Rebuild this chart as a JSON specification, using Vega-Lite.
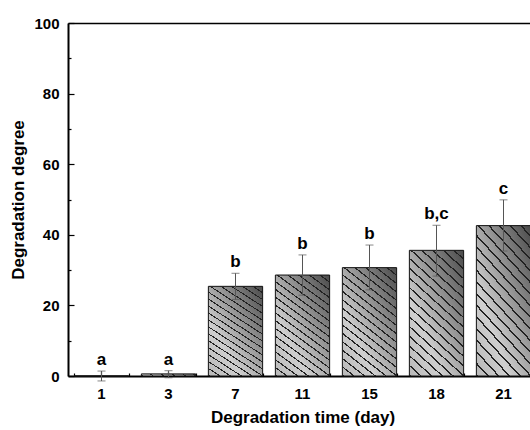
{
  "$schema": "https://vega.github.io/schema/vega-lite/v6.json",
  "width": 462,
  "height": 353,
  "autosize": {"type": "none"},
  "padding": {"left": 68, "top": 23, "right": 0, "bottom": 54},
  "background": "white",
  "config": {
    "view": {"stroke": null},
    "font": "Liberation Sans",
    "axis": {
      "labelFont": "Liberation Sans",
      "labelFontWeight": "bold",
      "labelFontSize": 15,
      "labelColor": "#000",
      "titleFont": "Liberation Sans",
      "titleFontWeight": "bold",
      "titleFontSize": 17,
      "titleColor": "#000",
      "domainColor": "#000",
      "domainWidth": 2,
      "tickColor": "#000",
      "tickWidth": 1.2,
      "grid": false,
      "zindex": 1
    }
  },
  "data": {
    "values": [
      {"day": "1", "mean": 0, "lower": -1.4, "upper": 1.4, "label": "a"},
      {"day": "3", "mean": 0.6, "lower": -0.5, "upper": 1.5, "label": "a"},
      {"day": "7", "mean": 25.4, "lower": 21.7, "upper": 29.1, "label": "b"},
      {"day": "11", "mean": 28.6, "lower": 22.9, "upper": 34.3, "label": "b"},
      {"day": "15", "mean": 30.7, "lower": 24.4, "upper": 37.1, "label": "b"},
      {"day": "18", "mean": 35.6, "lower": 28.3, "upper": 42.7, "label": "b,c"},
      {"day": "21", "mean": 42.6, "lower": 35.4, "upper": 49.9, "label": "c"}
    ]
  },
  "resolve": {"axis": {"x": "independent", "y": "independent"}},
  "layer": [
    {
      "mark": {
        "type": "bar",
        "stroke": "#111",
        "strokeWidth": 1,
        "fill": {
          "gradient": "linear",
          "x1": 0, "y1": 1, "x2": 1, "y2": 0,
          "stops": [
            {"offset": 0, "color": "#b8b8b8"},
            {"offset": 0.3, "color": "#cfcfcf"},
            {"offset": 1, "color": "#4a4a4a"}
          ]
        }
      },
      "encoding": {
        "x": {
          "field": "day", "type": "ordinal", "sort": null,
          "scale": {"range": [0, 469], "paddingInner": 0.19, "paddingOuter": 0.095},
          "axis": {
            "title": "Degradation time (day)",
            "titlePadding": 8,
            "labelAngle": 0,
            "tickSize": -5,
            "labelPadding": 15
          }
        },
        "y": {
          "field": "mean", "type": "quantitative",
          "scale": {"domain": [0, 100]},
          "axis": {
            "title": "Degradation degree",
            "titlePadding": 6,
            "values": [0, 20, 40, 60, 80, 100],
            "tickSize": -6,
            "labelPadding": 15
          }
        }
      }
    },
    {
      "mark": {
        "type": "bar",
        "strokeWidth": 0,
        "fill": {
          "gradient": "linear",
          "x1": 0, "y1": 1, "x2": 0.474, "y2": -0.207,
          "stops": [
            {"offset": 0, "color": "#222"}, {"offset": 0.01, "color": "#222"}, {"offset": 0.01, "color": "rgba(0,0,0,0)"}, {"offset": 0.0556, "color": "rgba(0,0,0,0)"},
            {"offset": 0.0556, "color": "#222"}, {"offset": 0.0656, "color": "#222"}, {"offset": 0.0656, "color": "rgba(0,0,0,0)"}, {"offset": 0.1111, "color": "rgba(0,0,0,0)"},
            {"offset": 0.1111, "color": "#222"}, {"offset": 0.1211, "color": "#222"}, {"offset": 0.1211, "color": "rgba(0,0,0,0)"}, {"offset": 0.1667, "color": "rgba(0,0,0,0)"},
            {"offset": 0.1667, "color": "#222"}, {"offset": 0.1767, "color": "#222"}, {"offset": 0.1767, "color": "rgba(0,0,0,0)"}, {"offset": 0.2222, "color": "rgba(0,0,0,0)"},
            {"offset": 0.2222, "color": "#222"}, {"offset": 0.2322, "color": "#222"}, {"offset": 0.2322, "color": "rgba(0,0,0,0)"}, {"offset": 0.2778, "color": "rgba(0,0,0,0)"},
            {"offset": 0.2778, "color": "#222"}, {"offset": 0.2878, "color": "#222"}, {"offset": 0.2878, "color": "rgba(0,0,0,0)"}, {"offset": 0.3333, "color": "rgba(0,0,0,0)"},
            {"offset": 0.3333, "color": "#222"}, {"offset": 0.3433, "color": "#222"}, {"offset": 0.3433, "color": "rgba(0,0,0,0)"}, {"offset": 0.3889, "color": "rgba(0,0,0,0)"},
            {"offset": 0.3889, "color": "#222"}, {"offset": 0.3989, "color": "#222"}, {"offset": 0.3989, "color": "rgba(0,0,0,0)"}, {"offset": 0.4444, "color": "rgba(0,0,0,0)"},
            {"offset": 0.4444, "color": "#222"}, {"offset": 0.4544, "color": "#222"}, {"offset": 0.4544, "color": "rgba(0,0,0,0)"}, {"offset": 0.5, "color": "rgba(0,0,0,0)"},
            {"offset": 0.5, "color": "#222"}, {"offset": 0.51, "color": "#222"}, {"offset": 0.51, "color": "rgba(0,0,0,0)"}, {"offset": 0.5556, "color": "rgba(0,0,0,0)"},
            {"offset": 0.5556, "color": "#222"}, {"offset": 0.5656, "color": "#222"}, {"offset": 0.5656, "color": "rgba(0,0,0,0)"}, {"offset": 0.6111, "color": "rgba(0,0,0,0)"},
            {"offset": 0.6111, "color": "#222"}, {"offset": 0.6211, "color": "#222"}, {"offset": 0.6211, "color": "rgba(0,0,0,0)"}, {"offset": 0.6667, "color": "rgba(0,0,0,0)"},
            {"offset": 0.6667, "color": "#222"}, {"offset": 0.6767, "color": "#222"}, {"offset": 0.6767, "color": "rgba(0,0,0,0)"}, {"offset": 0.7222, "color": "rgba(0,0,0,0)"},
            {"offset": 0.7222, "color": "#222"}, {"offset": 0.7322, "color": "#222"}, {"offset": 0.7322, "color": "rgba(0,0,0,0)"}, {"offset": 0.7778, "color": "rgba(0,0,0,0)"},
            {"offset": 0.7778, "color": "#222"}, {"offset": 0.7878, "color": "#222"}, {"offset": 0.7878, "color": "rgba(0,0,0,0)"}, {"offset": 0.8333, "color": "rgba(0,0,0,0)"},
            {"offset": 0.8333, "color": "#222"}, {"offset": 0.8433, "color": "#222"}, {"offset": 0.8433, "color": "rgba(0,0,0,0)"}, {"offset": 0.8889, "color": "rgba(0,0,0,0)"},
            {"offset": 0.8889, "color": "#222"}, {"offset": 0.8989, "color": "#222"}, {"offset": 0.8989, "color": "rgba(0,0,0,0)"}, {"offset": 0.9444, "color": "rgba(0,0,0,0)"},
            {"offset": 0.9444, "color": "#222"}, {"offset": 0.9544, "color": "#222"}, {"offset": 0.9544, "color": "rgba(0,0,0,0)"}, {"offset": 1, "color": "rgba(0,0,0,0)"}
          ]
        }
      },
      "encoding": {
        "x": {"field": "day", "type": "ordinal", "sort": null, "axis": null},
        "y": {"field": "mean", "type": "quantitative", "axis": null}
      }
    },
    {
      "mark": {
        "type": "errorbar",
        "ticks": {"size": 8, "color": "#555", "strokeWidth": 1},
        "rule": {"color": "#555", "strokeWidth": 1}
      },
      "encoding": {
        "x": {
          "field": "day", "type": "ordinal", "sort": null,
          "axis": {
            "orient": "top", "labels": false, "ticks": false, "title": null,
            "domain": true, "domainWidth": 1.5
          }
        },
        "y": {"field": "lower", "type": "quantitative", "axis": null},
        "y2": {"field": "upper"}
      }
    },
    {
      "mark": {
        "type": "text",
        "font": "Liberation Sans",
        "fontWeight": "bold",
        "fontSize": 17,
        "baseline": "alphabetic",
        "dy": -6,
        "color": "#000"
      },
      "encoding": {
        "x": {
          "field": "day", "type": "ordinal", "sort": null,
          "axis": {
            "orient": "bottom",
            "labels": false, "title": null, "domain": false,
            "tickBand": "extent", "tickSize": -3
          }
        },
        "y": {
          "field": "upper", "type": "quantitative",
          "axis": {
            "orient": "left",
            "labels": false, "title": null, "domain": false,
            "values": [10, 30, 50, 70, 90], "tickSize": -3
          }
        },
        "text": {"field": "label"}
      }
    }
  ]
}
